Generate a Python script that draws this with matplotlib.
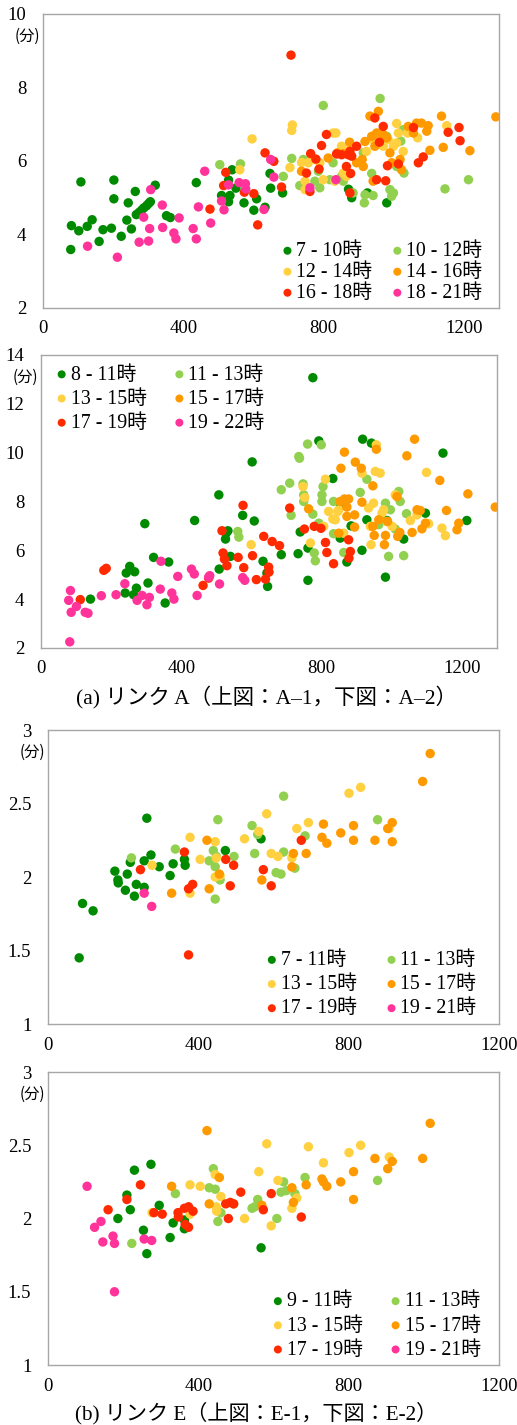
import matplotlib
matplotlib.use('Agg')
import matplotlib.pyplot as plt

plt.rcParams['font.family'] = ['Liberation Serif', 'Noto Sans CJK JP']
plt.rcParams['font.size'] = 13.5

colors = ['#008a00', '#92d050', '#ffd040', '#ff9900', '#ff2a00', '#ff3399']

# ---------------- A-1 ----------------
a1_labels = ['7 - 10時', '10 - 12時', '12 - 14時', '14 - 16時', '16 - 18時', '18 - 21時']
a1_x = [
    [79, 81, 102, 108, 126, 140, 160, 171, 195, 202, 202, 223, 239, 243, 252, 263, 266, 274, 281, 287,
     295, 301, 306, 320, 352, 363, 437, 509, 529, 529, 533, 539, 550, 573, 601, 609, 633, 647, 649, 683,
     871, 880, 925, 980],
    [504, 563, 685, 709, 742, 732, 775, 785, 789, 799, 961, 818, 827, 851, 856, 865, 884, 913, 916, 918,
     937, 941, 980, 989, 994, 999, 1008, 1020, 1029, 1027, 1146, 1213],
    [561, 596, 704, 709, 711, 737, 747, 747, 756, 766, 775, 789, 799, 827, 832, 835, 851, 856, 865, 875,
     922, 941, 956, 965, 970, 984, 999, 1008, 1008, 1013, 1027, 1039, 1068, 1151],
    [737, 813, 839, 856, 874, 894, 910, 913, 918, 932, 937, 941, 946, 951, 956, 970, 980, 989, 994, 1018,
     1022, 1041, 1056, 1065, 1079, 1094, 1098, 1103, 1136, 1141, 1217, 1291],
    [707, 476, 521, 515, 574, 601, 612, 633, 658, 680, 751, 763, 778, 787, 794, 808, 837, 851, 865, 870,
     875, 877, 880, 875, 894, 946, 951, 959, 970, 977, 982, 1013, 1056, 1070, 1084, 1155, 1186, 1189, 761],
    [127, 212, 274, 287, 301, 304, 307, 340, 341, 373, 379, 388, 428, 437, 443, 461, 478, 509, 516, 529,
     559, 577, 578, 630, 649, 658, 761, 835],
]
a1_y = [
    [3.59, 4.24, 4.10, 5.43, 4.22, 4.40, 3.81, 4.13, 4.17, 5.48, 4.97, 3.95, 4.39, 4.86, 4.15, 5.17, 4.54,
     4.60, 4.66, 4.72, 4.78, 4.84, 4.89, 5.34, 4.51, 4.46, 5.41, 5.06, 5.48, 4.89, 5.06, 5.76, 5.26, 4.86,
     4.66, 4.97, 4.74, 5.66, 5.26, 5.13, 5.23, 5.00, 5.13, 4.86],
    [5.90, 5.92, 5.58, 6.07, 6.04, 5.33, 5.45, 5.72, 5.27, 7.51, 7.70, 5.49, 5.95, 5.58, 5.45, 5.67, 5.13,
     6.22, 4.86, 5.08, 5.66, 5.06, 6.67, 5.22, 5.04, 5.13, 5.85, 6.54, 5.67, 6.85, 5.24, 5.49],
    [5.76, 6.60, 5.82, 6.83, 6.98, 5.96, 5.45, 5.22, 5.95, 6.13, 6.04, 5.95, 5.49, 6.76, 5.45, 6.76, 6.40,
     5.67, 5.58, 6.31, 6.26, 6.58, 6.76, 6.49, 6.40, 6.58, 6.40, 7.02, 6.49, 6.76, 6.26, 6.76, 6.63, 6.96],
    [5.72, 6.08, 6.22, 6.20, 6.51, 5.95, 6.04, 5.85, 6.53, 7.22, 6.67, 5.45, 6.40, 6.76, 7.35, 6.72, 6.63,
     6.22, 5.95, 6.04, 5.76, 6.94, 6.76, 7.03, 7.03, 6.81, 6.96, 6.29, 7.22, 6.37, 6.28, 7.20],
    [8.88, 4.69, 5.69, 5.33, 5.15, 5.11, 4.26, 6.22, 5.99, 5.29, 5.67, 6.20, 6.05, 5.78, 6.42, 6.72, 6.19,
     6.17, 5.85, 6.17, 6.26, 5.66, 6.13, 5.13, 6.40, 7.17, 5.49, 6.51, 6.94, 5.46, 5.87, 5.92, 6.91, 5.95,
     6.11, 6.78, 6.91, 6.55, 5.17],
    [3.68, 3.38, 3.79, 4.47, 3.82, 4.16, 5.22, 4.80, 4.19, 4.04, 3.88, 4.45, 4.16, 3.88, 4.75, 5.72, 4.31,
     4.91, 4.67, 5.35, 5.41, 5.38, 5.24, 4.68, 6.04, 5.56, 5.27, 5.49],
]

# ---------------- A-2 ----------------
a2_labels = ['8 - 11時', '11 - 13時', '13 - 15時', '15 - 17時', '17 - 19時', '19 - 22時']
a2_x = [
    [141, 240, 243, 253, 264, 267, 272, 296, 305, 321, 354, 364, 438, 507, 508, 526, 528, 533, 540, 575,
     602, 608, 633, 644, 646, 685, 733, 739, 761, 761, 775, 792, 832, 853, 853, 872, 884, 915, 917, 929,
     942, 982, 986, 1034, 1096, 1146, 1214],
    [561, 564, 685, 709, 713, 735, 737, 747, 749, 749, 760, 775, 779, 782, 792, 799, 801, 801, 804, 834,
     834, 863, 910, 929, 963, 982, 991, 996, 1010, 1020, 1024, 1034, 1042],
    [599, 747, 752, 768, 806, 811, 820, 832, 839, 846, 849, 863, 915, 934, 939, 941, 948, 953, 956, 967,
     972, 977, 986, 1001, 1010, 1053, 1072, 1099, 1105, 1143, 1153],
    [763, 849, 853, 855, 865, 865, 872, 872, 877, 894, 894, 896, 913, 915, 946, 946, 950, 956, 963, 979,
     982, 988, 1015, 1017, 1023, 1043, 1058, 1065, 1072, 1081, 1086, 1096, 1137, 1156, 1186, 1191, 1217,
     1295],
    [112, 179, 186, 462, 478, 516, 519, 523, 530, 562, 576, 578, 603, 614, 635, 640, 649, 650, 659, 680,
     709, 751, 779, 798, 811, 815, 834, 877, 878, 882],
    [79, 82, 84, 86, 101, 126, 134, 172, 214, 239, 274, 288, 302, 309, 340, 342, 373, 379, 390, 429, 437,
     445, 478, 481, 509, 575, 581],
]
a2_y = [
    [4.00, 4.25, 5.07, 5.34, 4.18, 5.12, 4.45, 7.09, 4.66, 5.71, 3.84, 5.52, 7.22, 8.27, 5.23, 6.46, 6.70,
     6.80, 5.75, 7.43, 9.62, 7.20, 5.55, 5.07, 4.52, 5.82, 5.86, 6.75, 4.77, 6.09, 13.07, 10.48, 8.94,
     7.90, 6.50, 5.52, 7.00, 6.00, 10.55, 7.25, 10.39, 4.90, 7.22, 6.46, 7.52, 9.98, 7.22],
    [6.77, 6.54, 8.48, 8.75, 7.43, 9.84, 9.77, 8.72, 8.27, 8.00, 10.35, 7.48, 5.89, 5.57, 7.11, 10.32,
     8.00, 8.27, 8.61, 8.00, 6.68, 5.91, 8.37, 8.91, 7.05, 7.93, 5.75, 7.66, 6.87, 8.41, 8.00, 5.78, 7.50],
    [6.23, 8.61, 8.16, 6.30, 6.98, 8.91, 7.59, 7.28, 7.25, 7.59, 7.66, 6.70, 9.16, 7.73, 6.98, 6.23, 7.93,
     9.23, 10.32, 9.16, 7.52, 7.66, 7.18, 6.98, 8.27, 7.22, 7.45, 9.19, 7.09, 6.91, 6.60],
    [7.70, 6.70, 8.00, 9.36, 10.02, 8.10, 7.77, 7.39, 8.10, 7.45, 6.95, 9.61, 9.36, 7.97, 6.98, 8.64, 6.61,
     10.14, 7.25, 6.23, 6.61, 7.18, 8.20, 6.57, 6.73, 9.87, 6.73, 10.55, 7.66, 7.63, 6.88, 7.11, 8.86,
     7.63, 6.84, 7.11, 8.31, 7.77],
    [3.98, 5.18, 5.26, 4.56, 4.86, 6.80, 5.89, 5.64, 5.37, 5.71, 7.84, 5.29, 5.78, 4.80, 6.57, 4.82, 5.31,
     5.11, 6.36, 6.19, 7.73, 6.87, 6.98, 6.90, 6.32, 5.91, 5.45, 6.43, 5.68, 5.95],
    [3.95, 2.25, 4.35, 3.46, 3.70, 3.46, 3.42, 4.14, 4.18, 4.63, 3.95, 4.15, 3.77, 4.07, 4.41, 5.55, 4.25,
     4.00, 4.93, 5.23, 5.03, 4.15, 4.90, 4.96, 4.62, 4.88, 4.77],
]

# ---------------- E-1 ----------------
e1_labels = ['7 - 11時', '11 - 13時', '13 - 15時', '15 - 17時', '17 - 19時', '19 - 21時']
e1_x = [
    [83, 92, 120, 178, 186, 187, 206, 211, 219, 230, 235, 256, 256, 263, 274, 296, 325, 333, 363, 365, 472,
     567],
    [222, 339, 429, 440, 445, 448, 452, 445, 458, 495, 543, 550, 558, 627, 627, 607, 620, 657, 684, 877],
    [277, 378, 378, 405, 445, 445, 448, 458, 523, 561, 582, 594, 612, 649, 662, 693, 801, 832, 908],
    [329, 423, 429, 456, 569, 649, 653, 687, 729, 733, 742, 779, 813, 813, 870, 904, 916, 916, 997, 1017],
    [246, 363, 374, 374, 385, 473, 485, 494, 573, 594, 674],
    [256, 276],
]
e1_y = [
    [1.45, 1.82, 1.77, 2.04, 1.98, 1.96, 1.91, 2.02, 2.10, 1.87, 1.95, 2.11, 1.93, 2.40, 2.15, 2.07, 2.01,
     2.09, 2.12, 2.08, 2.18, 2.26],
    [2.13, 2.19, 2.11, 2.18, 2.07, 2.14, 2.39, 1.85, 1.98, 2.14, 2.35, 2.16, 2.29, 2.55, 2.17, 2.03, 2.02,
     2.06, 2.28, 2.39],
    [2.08, 2.27, 1.89, 2.12, 2.24, 2.00, 2.13, 2.01, 2.26, 2.31, 2.43, 2.16, 2.14, 2.13, 2.33, 2.37, 2.57,
     2.61, 2.33],
    [1.89, 2.25, 1.92, 2.02, 1.98, 2.07, 2.16, 2.16, 2.27, 2.36, 2.23, 2.30, 2.35, 2.25, 2.25, 2.33, 2.37,
     2.24, 2.65, 2.84],
    [2.05, 2.17, 1.92, 1.47, 1.95, 2.12, 1.94, 2.08, 2.05, 1.94, 2.25],
    [1.89, 1.80],
]

# ---------------- E-2 ----------------
e2_labels = ['9 - 11時', '11 - 13時', '13 - 15時', '15 - 17時', '17 - 19時', '19 - 21時']
e2_x = [
    [186, 210, 219, 230, 254, 263, 274, 296, 325, 333, 363, 363, 567],
    [223, 339, 429, 440, 445, 452, 460, 494, 543, 550, 558, 609, 620, 627, 634, 657, 684, 877],
    [277, 378, 378, 405, 445, 448, 449, 460, 523, 561, 582, 594, 612, 649, 662, 693, 733, 801, 832, 908],
    [329, 423, 429, 456, 569, 649, 653, 687, 729, 733, 742, 779, 813, 813, 870, 904, 916, 997, 1017],
    [160, 210, 246, 282, 304, 346, 347, 363, 365, 374, 374, 386, 473, 480, 485, 494, 513, 573, 594, 674],
    [104, 124, 141, 146, 173, 177, 177, 256, 276],
]
e2_y = [
    [2.00, 2.16, 2.06, 2.33, 1.92, 1.76, 2.37, 2.09, 1.87, 1.97, 1.99, 1.93, 1.80],
    [1.83, 2.17, 2.21, 2.34, 2.20, 1.98, 2.04, 2.10, 2.07, 2.08, 2.13, 2.00, 2.18, 2.25, 2.19, 2.17, 2.28,
     2.26],
    [2.04, 2.23, 2.03, 2.22, 2.30, 2.08, 2.05, 2.15, 2.00, 2.32, 2.51, 1.95, 2.26, 2.07, 2.14, 2.49, 2.38,
     2.45, 2.50, 2.42],
    [2.22, 2.60, 2.10, 2.28, 2.09, 2.21, 2.11, 2.23, 2.27, 2.25, 2.22, 2.25, 2.32, 2.13, 2.41, 2.34, 2.39,
     2.41, 2.65],
    [2.06, 2.13, 2.23, 2.04, 2.03, 2.04, 2.01, 2.07, 1.96, 1.94, 2.08, 2.05, 2.10, 2.00, 2.11, 2.10, 2.18,
     2.06, 2.17, 2.01],
    [2.22, 1.94, 1.98, 1.84, 1.88, 1.83, 1.50, 1.86, 1.85],
]

fig = plt.figure(figsize=(5.17, 14.25), dpi=100)

panels = [
    # rect, xs, ys, labels, xmax, ylim, yticks, legend loc, anchor, labelspacing, columnspacing
    ([0.0832, 0.7839, 0.882, 0.2063], a1_x, a1_y, a1_labels, 1300, (2, 10), [2, 4, 6, 8, 10],
     'lower right', (0.981, -0.01), 0.1, 1.0),
    ([0.0793, 0.5453, 0.882, 0.2056], a2_x, a2_y, a2_labels, 1300, (2, 14), [2, 4, 6, 8, 10, 12, 14],
     'upper left', (0.017, 0.991), 0.26, 1.4),
    ([0.0928, 0.2814, 0.8723, 0.2063], e1_x, e1_y, e1_labels, 1200, (1, 3), [1, 1.5, 2, 2.5, 3],
     'lower right', (0.968, -0.008), 0.26, 1.5),
    ([0.0928, 0.0421, 0.8723, 0.2056], e2_x, e2_y, e2_labels, 1200, (1, 3), [1, 1.5, 2, 2.5, 3],
     'lower right', (0.977, -0.009), 0.26, 1.4),
]

for rect, xs, ys, labels, xmax, ylim, yticks, loc, anchor, lsp, csp in panels:
    ax = fig.add_axes(rect)
    handles = []
    for i in range(6):
        h = ax.scatter(xs[i], ys[i], s=46, color=colors[i], edgecolors='none', label=labels[i], zorder=2)
        handles.append(h)
    ax.set_xlim(0, xmax)
    ax.set_ylim(*ylim)
    ax.set_xticks([0, 400, 800, 1200])
    ax.set_yticks(yticks)
    ax.set_yticklabels([('%g' % t) for t in yticks])
    ax.tick_params(length=0, labelsize=13.5)
    ax.tick_params(axis='y', pad=12)
    ax.tick_params(axis='x', pad=9)
    for sp in ax.spines.values():
        sp.set_color('#a6a6a6')
        sp.set_linewidth(1.0)
    order = [0, 2, 4, 1, 3, 5]
    ax.legend([handles[k] for k in order], [labels[k] for k in order], ncol=2, loc=loc,
              bbox_to_anchor=anchor, frameon=False, handlelength=0.5, handletextpad=0.2,
              columnspacing=csp, labelspacing=lsp, markerscale=0.85, fontsize=14.3,
              borderaxespad=0.0)
    ax.text(-0.006, 0.925, '(分)', transform=ax.transAxes, ha='right', va='center', fontsize=11,
            family=['Noto Sans CJK JP'])

fig.text(0.515, 1 - 697 / 1425, '(a) リンク A（上図：A–1，下図：A–2）', ha='center', va='center',
         fontsize=15.5)
fig.text(0.495, 1 - 1413 / 1425, '(b) リンク E（上図：E-1，下図：E-2）', ha='center', va='center',
         fontsize=15.2)

fig.savefig('out.png', dpi=100)
